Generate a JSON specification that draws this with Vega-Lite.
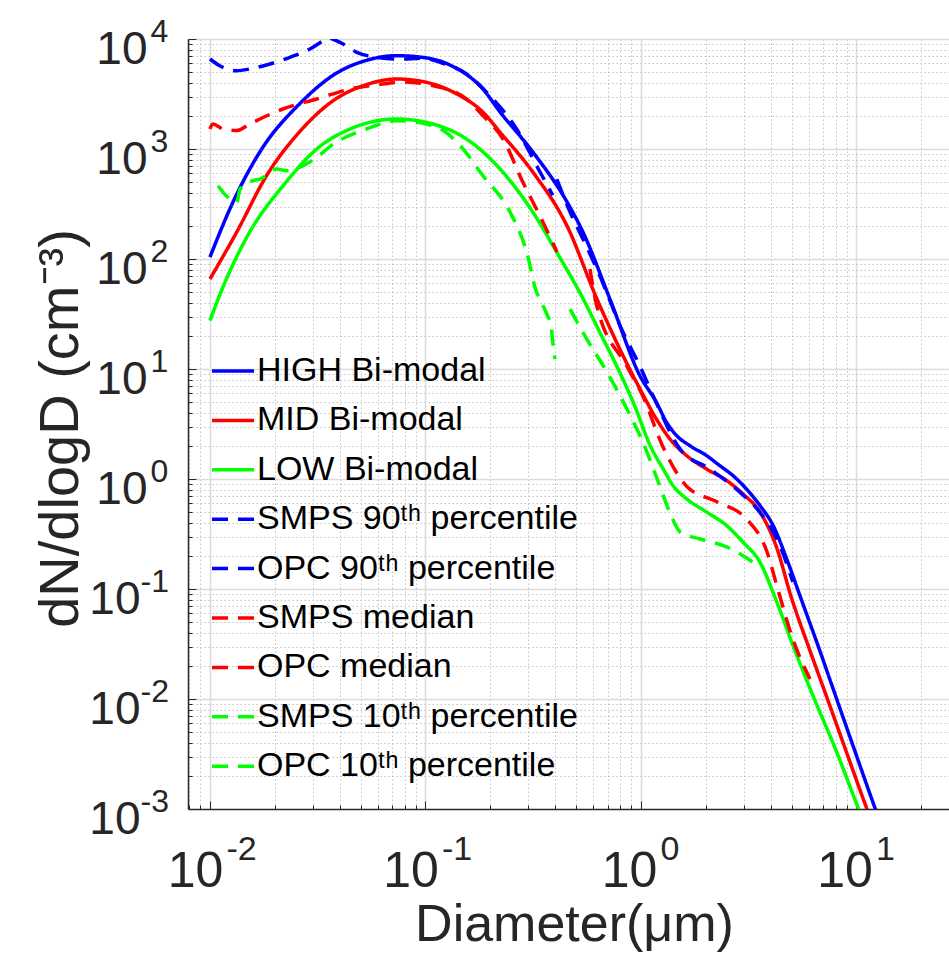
{
  "$schema": "https://vega.github.io/schema/vega-lite/v6.json",
  "width": 761,
  "height": 770,
  "autosize": {"type": "none"},
  "padding": {"left": 188, "top": 39, "right": 0, "bottom": 153},
  "background": "#ffffff",
  "config": {
    "view": {"stroke": null},
    "font": "Liberation Sans",
    "axis": {"labelFont": "Liberation Sans", "titleFont": "Liberation Sans", "labelOverlap": false, "labelFlush": false, "labelBound": false, "labelColor": "#262626", "titleColor": "#262626", "titleFontWeight": "normal", "labelLimit": 0}
  },
  "data": {"values": [
    {"s": "HIGH Bi-modal", "D": 0.01, "N": 104},
    {"s": "HIGH Bi-modal", "D": 0.0128, "N": 330},
    {"s": "HIGH Bi-modal", "D": 0.0171, "N": 950},
    {"s": "HIGH Bi-modal", "D": 0.0262, "N": 2600},
    {"s": "HIGH Bi-modal", "D": 0.0387, "N": 4900},
    {"s": "HIGH Bi-modal", "D": 0.0533, "N": 6400},
    {"s": "HIGH Bi-modal", "D": 0.0735, "N": 7050},
    {"s": "HIGH Bi-modal", "D": 0.0977, "N": 6800},
    {"s": "HIGH Bi-modal", "D": 0.13, "N": 5800},
    {"s": "HIGH Bi-modal", "D": 0.185, "N": 3500},
    {"s": "HIGH Bi-modal", "D": 0.222, "N": 2170},
    {"s": "HIGH Bi-modal", "D": 0.315, "N": 940},
    {"s": "HIGH Bi-modal", "D": 0.454, "N": 330},
    {"s": "HIGH Bi-modal", "D": 0.538, "N": 176},
    {"s": "HIGH Bi-modal", "D": 0.718, "N": 43.3},
    {"s": "HIGH Bi-modal", "D": 0.989, "N": 8.7},
    {"s": "HIGH Bi-modal", "D": 1.18, "N": 4.98},
    {"s": "HIGH Bi-modal", "D": 1.316, "N": 3.27},
    {"s": "HIGH Bi-modal", "D": 1.465, "N": 2.48},
    {"s": "HIGH Bi-modal", "D": 1.687, "N": 2.01},
    {"s": "HIGH Bi-modal", "D": 2.018, "N": 1.63},
    {"s": "HIGH Bi-modal", "D": 2.326, "N": 1.32},
    {"s": "HIGH Bi-modal", "D": 2.68, "N": 1.07},
    {"s": "HIGH Bi-modal", "D": 3.09, "N": 0.81},
    {"s": "HIGH Bi-modal", "D": 3.57, "N": 0.573},
    {"s": "HIGH Bi-modal", "D": 4.11, "N": 0.377},
    {"s": "HIGH Bi-modal", "D": 4.75, "N": 0.1875},
    {"s": "HIGH Bi-modal", "D": 5.47, "N": 0.087},
    {"s": "HIGH Bi-modal", "D": 6.72, "N": 0.0285},
    {"s": "HIGH Bi-modal", "D": 8.1, "N": 0.01},
    {"s": "HIGH Bi-modal", "D": 9.77, "N": 0.0035},
    {"s": "HIGH Bi-modal", "D": 12.2, "N": 0.00102},
    {"s": "HIGH Bi-modal", "D": 13.56, "N": 0.00058},

    {"s": "MID Bi-modal", "D": 0.01, "N": 65.8},
    {"s": "MID Bi-modal", "D": 0.0133, "N": 175},
    {"s": "MID Bi-modal", "D": 0.0183, "N": 571},
    {"s": "MID Bi-modal", "D": 0.0262, "N": 1450},
    {"s": "MID Bi-modal", "D": 0.0373, "N": 2750},
    {"s": "MID Bi-modal", "D": 0.0533, "N": 3850},
    {"s": "MID Bi-modal", "D": 0.0735, "N": 4330},
    {"s": "MID Bi-modal", "D": 0.101, "N": 4040},
    {"s": "MID Bi-modal", "D": 0.14, "N": 3160},
    {"s": "MID Bi-modal", "D": 0.185, "N": 2160},
    {"s": "MID Bi-modal", "D": 0.222, "N": 1420},
    {"s": "MID Bi-modal", "D": 0.315, "N": 618},
    {"s": "MID Bi-modal", "D": 0.454, "N": 200},
    {"s": "MID Bi-modal", "D": 0.625, "N": 43.3},
    {"s": "MID Bi-modal", "D": 0.771, "N": 17.5},
    {"s": "MID Bi-modal", "D": 0.99, "N": 6.58},
    {"s": "MID Bi-modal", "D": 1.18, "N": 3.51},
    {"s": "MID Bi-modal", "D": 1.364, "N": 2.31},
    {"s": "MID Bi-modal", "D": 1.63, "N": 1.63},
    {"s": "MID Bi-modal", "D": 2.02, "N": 1.23},
    {"s": "MID Bi-modal", "D": 2.5, "N": 0.97},
    {"s": "MID Bi-modal", "D": 2.98, "N": 0.73},
    {"s": "MID Bi-modal", "D": 3.57, "N": 0.5},
    {"s": "MID Bi-modal", "D": 4.26, "N": 0.24},
    {"s": "MID Bi-modal", "D": 4.99, "N": 0.0838},
    {"s": "MID Bi-modal", "D": 6.05, "N": 0.0285},
    {"s": "MID Bi-modal", "D": 7.34, "N": 0.01},
    {"s": "MID Bi-modal", "D": 8.89, "N": 0.0035},
    {"s": "MID Bi-modal", "D": 11.15, "N": 0.00102},
    {"s": "MID Bi-modal", "D": 12.45, "N": 0.00057},

    {"s": "LOW Bi-modal", "D": 0.01, "N": 27.5},
    {"s": "LOW Bi-modal", "D": 0.0109, "N": 43},
    {"s": "LOW Bi-modal", "D": 0.0153, "N": 176},
    {"s": "LOW Bi-modal", "D": 0.0218, "N": 461},
    {"s": "LOW Bi-modal", "D": 0.0313, "N": 1000},
    {"s": "LOW Bi-modal", "D": 0.0447, "N": 1520},
    {"s": "LOW Bi-modal", "D": 0.0735, "N": 1875},
    {"s": "LOW Bi-modal", "D": 0.108, "N": 1690},
    {"s": "LOW Bi-modal", "D": 0.155, "N": 1233},
    {"s": "LOW Bi-modal", "D": 0.222, "N": 658},
    {"s": "LOW Bi-modal", "D": 0.315, "N": 267},
    {"s": "LOW Bi-modal", "D": 0.406, "N": 116},
    {"s": "LOW Bi-modal", "D": 0.54, "N": 43.3},
    {"s": "LOW Bi-modal", "D": 0.645, "N": 21.5},
    {"s": "LOW Bi-modal", "D": 0.771, "N": 10.7},
    {"s": "LOW Bi-modal", "D": 0.921, "N": 4.98},
    {"s": "LOW Bi-modal", "D": 1.12, "N": 1.9},
    {"s": "LOW Bi-modal", "D": 1.27, "N": 1.23},
    {"s": "LOW Bi-modal", "D": 1.41, "N": 0.87},
    {"s": "LOW Bi-modal", "D": 1.63, "N": 0.66},
    {"s": "LOW Bi-modal", "D": 2.02, "N": 0.5},
    {"s": "LOW Bi-modal", "D": 2.5, "N": 0.377},
    {"s": "LOW Bi-modal", "D": 2.98, "N": 0.266},
    {"s": "LOW Bi-modal", "D": 3.57, "N": 0.175},
    {"s": "LOW Bi-modal", "D": 4.19, "N": 0.084},
    {"s": "LOW Bi-modal", "D": 5.15, "N": 0.0285},
    {"s": "LOW Bi-modal", "D": 6.38, "N": 0.01},
    {"s": "LOW Bi-modal", "D": 8.0, "N": 0.0035},
    {"s": "LOW Bi-modal", "D": 10.2, "N": 0.00102},
    {"s": "LOW Bi-modal", "D": 11.34, "N": 0.000605},

    {"s": "SMPS 90\u1d57\u02b0 percentile", "D": 0.01, "N": 6580},
    {"s": "SMPS 90\u1d57\u02b0 percentile", "D": 0.0111, "N": 5720},
    {"s": "SMPS 90\u1d57\u02b0 percentile", "D": 0.0133, "N": 5150},
    {"s": "SMPS 90\u1d57\u02b0 percentile", "D": 0.0153, "N": 5340},
    {"s": "SMPS 90\u1d57\u02b0 percentile", "D": 0.019, "N": 5930},
    {"s": "SMPS 90\u1d57\u02b0 percentile", "D": 0.0235, "N": 6820},
    {"s": "SMPS 90\u1d57\u02b0 percentile", "D": 0.0291, "N": 8110},
    {"s": "SMPS 90\u1d57\u02b0 percentile", "D": 0.0336, "N": 9660},
    {"s": "SMPS 90\u1d57\u02b0 percentile", "D": 0.0354, "N": 10200},
    {"s": "SMPS 90\u1d57\u02b0 percentile", "D": 0.0401, "N": 9330},
    {"s": "SMPS 90\u1d57\u02b0 percentile", "D": 0.048, "N": 7570},
    {"s": "SMPS 90\u1d57\u02b0 percentile", "D": 0.0594, "N": 6820},
    {"s": "SMPS 90\u1d57\u02b0 percentile", "D": 0.0762, "N": 6580},
    {"s": "SMPS 90\u1d57\u02b0 percentile", "D": 0.0977, "N": 6680},
    {"s": "SMPS 90\u1d57\u02b0 percentile", "D": 0.117, "N": 6140},
    {"s": "SMPS 90\u1d57\u02b0 percentile", "D": 0.155, "N": 4810},
    {"s": "SMPS 90\u1d57\u02b0 percentile", "D": 0.199, "N": 3050},
    {"s": "SMPS 90\u1d57\u02b0 percentile", "D": 0.265, "N": 1520},
    {"s": "SMPS 90\u1d57\u02b0 percentile", "D": 0.34, "N": 620},
    {"s": "SMPS 90\u1d57\u02b0 percentile", "D": 0.39, "N": 380},

    {"s": "OPC 90\u1d57\u02b0 percentile", "D": 0.407, "N": 533},
    {"s": "OPC 90\u1d57\u02b0 percentile", "D": 0.469, "N": 267},
    {"s": "OPC 90\u1d57\u02b0 percentile", "D": 0.538, "N": 152},
    {"s": "OPC 90\u1d57\u02b0 percentile", "D": 0.625, "N": 81},
    {"s": "OPC 90\u1d57\u02b0 percentile", "D": 0.825, "N": 21.7},
    {"s": "OPC 90\u1d57\u02b0 percentile", "D": 0.99, "N": 10.6},
    {"s": "OPC 90\u1d57\u02b0 percentile", "D": 1.14, "N": 5.7},
    {"s": "OPC 90\u1d57\u02b0 percentile", "D": 1.52, "N": 1.87},
    {"s": "OPC 90\u1d57\u02b0 percentile", "D": 2.09, "N": 1.23},
    {"s": "OPC 90\u1d57\u02b0 percentile", "D": 2.88, "N": 0.76},
    {"s": "OPC 90\u1d57\u02b0 percentile", "D": 3.68, "N": 0.46},
    {"s": "OPC 90\u1d57\u02b0 percentile", "D": 4.28, "N": 0.285},
    {"s": "OPC 90\u1d57\u02b0 percentile", "D": 5.07, "N": 0.116},

    {"s": "SMPS median", "D": 0.01, "N": 1520},
    {"s": "SMPS median", "D": 0.0103, "N": 1690},
    {"s": "SMPS median", "D": 0.0115, "N": 1520},
    {"s": "SMPS median", "D": 0.0133, "N": 1470},
    {"s": "SMPS median", "D": 0.0153, "N": 1690},
    {"s": "SMPS median", "D": 0.0218, "N": 2310},
    {"s": "SMPS median", "D": 0.0313, "N": 2850},
    {"s": "SMPS median", "D": 0.0447, "N": 3510},
    {"s": "SMPS median", "D": 0.0635, "N": 3900},
    {"s": "SMPS median", "D": 0.0787, "N": 4060},
    {"s": "SMPS median", "D": 0.108, "N": 3770},
    {"s": "SMPS median", "D": 0.155, "N": 2850},
    {"s": "SMPS median", "D": 0.185, "N": 2010},
    {"s": "SMPS median", "D": 0.229, "N": 1233},
    {"s": "SMPS median", "D": 0.283, "N": 501},
    {"s": "SMPS median", "D": 0.34, "N": 246},
    {"s": "SMPS median", "D": 0.408, "N": 116},

    {"s": "OPC median", "D": 0.58, "N": 81},
    {"s": "OPC median", "D": 0.625, "N": 37},
    {"s": "OPC median", "D": 0.861, "N": 10.6},
    {"s": "OPC median", "D": 1.02, "N": 5.7},
    {"s": "OPC median", "D": 1.26, "N": 2.0},
    {"s": "OPC median", "D": 1.63, "N": 0.86},
    {"s": "OPC median", "D": 2.25, "N": 0.62},
    {"s": "OPC median", "D": 3.1, "N": 0.43},
    {"s": "OPC median", "D": 3.85, "N": 0.217},
    {"s": "OPC median", "D": 4.28, "N": 0.106},
    {"s": "OPC median", "D": 5.07, "N": 0.035},
    {"s": "OPC median", "D": 6.09, "N": 0.0152},

    {"s": "SMPS 10\u1d57\u02b0 percentile", "D": 0.0109, "N": 463},
    {"s": "SMPS 10\u1d57\u02b0 percentile", "D": 0.0119, "N": 376},
    {"s": "SMPS 10\u1d57\u02b0 percentile", "D": 0.0133, "N": 327},
    {"s": "SMPS 10\u1d57\u02b0 percentile", "D": 0.0138, "N": 433},
    {"s": "SMPS 10\u1d57\u02b0 percentile", "D": 0.0158, "N": 515},
    {"s": "SMPS 10\u1d57\u02b0 percentile", "D": 0.0171, "N": 533},
    {"s": "SMPS 10\u1d57\u02b0 percentile", "D": 0.0204, "N": 658},
    {"s": "SMPS 10\u1d57\u02b0 percentile", "D": 0.0227, "N": 635},
    {"s": "SMPS 10\u1d57\u02b0 percentile", "D": 0.0291, "N": 762},
    {"s": "SMPS 10\u1d57\u02b0 percentile", "D": 0.0387, "N": 1160},
    {"s": "SMPS 10\u1d57\u02b0 percentile", "D": 0.0533, "N": 1520},
    {"s": "SMPS 10\u1d57\u02b0 percentile", "D": 0.0735, "N": 1810},
    {"s": "SMPS 10\u1d57\u02b0 percentile", "D": 0.101, "N": 1690},
    {"s": "SMPS 10\u1d57\u02b0 percentile", "D": 0.121, "N": 1470},
    {"s": "SMPS 10\u1d57\u02b0 percentile", "D": 0.145, "N": 1070},
    {"s": "SMPS 10\u1d57\u02b0 percentile", "D": 0.185, "N": 571},
    {"s": "SMPS 10\u1d57\u02b0 percentile", "D": 0.247, "N": 267},
    {"s": "SMPS 10\u1d57\u02b0 percentile", "D": 0.295, "N": 116},
    {"s": "SMPS 10\u1d57\u02b0 percentile", "D": 0.328, "N": 50},
    {"s": "SMPS 10\u1d57\u02b0 percentile", "D": 0.34, "N": 43},
    {"s": "SMPS 10\u1d57\u02b0 percentile", "D": 0.37, "N": 30},
    {"s": "SMPS 10\u1d57\u02b0 percentile", "D": 0.382, "N": 25.6},
    {"s": "SMPS 10\u1d57\u02b0 percentile", "D": 0.39, "N": 17.6},
    {"s": "SMPS 10\u1d57\u02b0 percentile", "D": 0.399, "N": 12.3},

    {"s": "OPC 10\u1d57\u02b0 percentile", "D": 0.469, "N": 35},
    {"s": "OPC 10\u1d57\u02b0 percentile", "D": 0.561, "N": 18.7},
    {"s": "OPC 10\u1d57\u02b0 percentile", "D": 0.695, "N": 9.4},
    {"s": "OPC 10\u1d57\u02b0 percentile", "D": 0.861, "N": 4.33},
    {"s": "OPC 10\u1d57\u02b0 percentile", "D": 1.02, "N": 2.17},
    {"s": "OPC 10\u1d57\u02b0 percentile", "D": 1.19, "N": 1.0},
    {"s": "OPC 10\u1d57\u02b0 percentile", "D": 1.36, "N": 0.5},
    {"s": "OPC 10\u1d57\u02b0 percentile", "D": 1.52, "N": 0.33},
    {"s": "OPC 10\u1d57\u02b0 percentile", "D": 1.88, "N": 0.285},
    {"s": "OPC 10\u1d57\u02b0 percentile", "D": 2.51, "N": 0.241},
    {"s": "OPC 10\u1d57\u02b0 percentile", "D": 3.31, "N": 0.176}
  ]},
  "layer": [
    {
      "mark": {"type": "point", "opacity": 0},
      "encoding": {
        "x": {"field": "D", "type": "quantitative",
          "scale": {"type": "log", "domain": [0.00791, 26.9], "nice": false},
          "axis": {"orient": "bottom", "title": null, "labels": false, "domain": false,
            "values": [0.008, 0.009, 0.01, 0.02, 0.03, 0.04, 0.05, 0.06, 0.07, 0.08, 0.09, 0.1, 0.2, 0.3, 0.4, 0.5, 0.6, 0.7, 0.8, 0.9, 1, 2, 3, 4, 5, 6, 7, 8, 9, 10, 20],
            "grid": true,
            "gridColor": {"condition": {"test": "abs(log(datum.value)/LN10 - round(log(datum.value)/LN10)) < 0.001", "value": "#dcdcdc"}, "value": "#c2c2c2"},
            "gridDash": {"condition": {"test": "abs(log(datum.value)/LN10 - round(log(datum.value)/LN10)) < 0.001", "value": [1, 0]}, "value": [1.5, 2.5]},
            "gridWidth": {"condition": {"test": "abs(log(datum.value)/LN10 - round(log(datum.value)/LN10)) < 0.001", "value": 1.5}, "value": 1},
            "ticks": true, "tickColor": "#262626", "tickWidth": 1,
            "tickSize": {"condition": {"test": "abs(log(datum.value)/LN10 - round(log(datum.value)/LN10)) < 0.001", "value": -8}, "value": -4}}},
        "y": {"field": "N", "type": "quantitative",
          "scale": {"type": "log", "domain": [0.001, 10000], "nice": false},
          "axis": {"orient": "left", "title": null, "labels": false, "domain": false,
            "values": [0.002, 0.003, 0.004, 0.005, 0.006, 0.007, 0.008, 0.009, 0.01, 0.02, 0.03, 0.04, 0.05, 0.06, 0.07, 0.08, 0.09, 0.1, 0.2, 0.3, 0.4, 0.5, 0.6, 0.7, 0.8, 0.9, 1, 2, 3, 4, 5, 6, 7, 8, 9, 10, 20, 30, 40, 50, 60, 70, 80, 90, 100, 200, 300, 400, 500, 600, 700, 800, 900, 1000, 2000, 3000, 4000, 5000, 6000, 7000, 8000, 9000, 10000],
            "grid": true,
            "gridColor": {"condition": {"test": "abs(log(datum.value)/LN10 - round(log(datum.value)/LN10)) < 0.001", "value": "#dcdcdc"}, "value": "#c2c2c2"},
            "gridDash": {"condition": {"test": "abs(log(datum.value)/LN10 - round(log(datum.value)/LN10)) < 0.001", "value": [1, 0]}, "value": [1.5, 2.5]},
            "gridWidth": {"condition": {"test": "abs(log(datum.value)/LN10 - round(log(datum.value)/LN10)) < 0.001", "value": 1.5}, "value": 1},
            "ticks": true, "tickColor": "#262626", "tickWidth": 1,
            "tickSize": {"condition": {"test": "abs(log(datum.value)/LN10 - round(log(datum.value)/LN10)) < 0.001", "value": -8}, "value": -4}}}
      }
    },
    {
      "mark": {"type": "line", "strokeWidth": 3.5, "clip": true, "interpolate": "monotone"},
      "encoding": {
        "x": {"field": "D", "type": "quantitative",
          "scale": {"type": "log", "domain": [0.00791, 26.9], "nice": false},
          "axis": {"orient": "bottom", "values": [0.01, 0.1, 1, 10], "labelExpr": "'10'",
            "ticks": false, "grid": false, "domain": true, "domainColor": "#262626", "domainWidth": 1.5,
            "labelFontSize": 50, "labelAlign": "right", "labelBaseline": "top", "labelPadding": 37,
            "labelOffset": {"condition": {"test": "datum.value < 1", "value": 13}, "value": 16},
            "title": "Diameter(\u03bcm)", "titleFontSize": 52, "titleX": 386, "titleY": 131, "titleAlign": "center", "titleBaseline": "alphabetic"}},
        "y": {"field": "N", "type": "quantitative",
          "scale": {"type": "log", "domain": [0.001, 10000], "nice": false},
          "axis": {"orient": "left", "values": [0.001, 0.01, 0.1, 1, 10, 100, 1000, 10000], "labelExpr": "'10'",
            "ticks": false, "grid": false, "domain": true, "domainColor": "#262626", "domainWidth": 1.5,
            "labelFontSize": 46, "labelAlign": "right", "labelBaseline": "middle",
            "labelPadding": {"condition": {"test": "datum.value < 1", "value": 48}, "value": 41},
            "labelOffset": 10,
            "title": "dN/dlogD (cm\u207b\u00b3)", "titleFontSize": 56, "titleAngle": -90, "titleX": -128, "titleY": 389, "titleAlign": "center", "titleBaseline": "middle"}},
        "color": {"field": "s", "type": "nominal",
          "scale": {"domain": ["HIGH Bi-modal", "MID Bi-modal", "LOW Bi-modal", "SMPS 90\u1d57\u02b0 percentile", "OPC 90\u1d57\u02b0 percentile", "SMPS median", "OPC median", "SMPS 10\u1d57\u02b0 percentile", "OPC 10\u1d57\u02b0 percentile"],
            "range": ["#0000ff", "#ff0000", "#00ff00", "#0000ff", "#0000ff", "#ff0000", "#ff0000", "#00ff00", "#00ff00"]},
          "legend": {"orient": "none", "legendX": 22, "legendY": 309, "direction": "vertical", "title": null,
            "labelFont": "Liberation Sans", "labelFontSize": 34, "labelColor": "#000000", "labelLimit": 0,
            "symbolType": "stroke", "symbolSize": 1764, "symbolStrokeWidth": 3.5, "rowPadding": 9.4, "labelOffset": 1, "padding": 0}},
        "strokeDash": {"field": "s", "type": "nominal",
          "scale": {"domain": ["HIGH Bi-modal", "MID Bi-modal", "LOW Bi-modal", "SMPS 90\u1d57\u02b0 percentile", "OPC 90\u1d57\u02b0 percentile", "SMPS median", "OPC median", "SMPS 10\u1d57\u02b0 percentile", "OPC 10\u1d57\u02b0 percentile"],
            "range": [[1, 0], [1, 0], [1, 0], [16, 10], [16, 10], [16, 10], [16, 10], [16, 10], [16, 10]]},
          "legend": {"orient": "none", "legendX": 22, "legendY": 309, "direction": "vertical", "title": null,
            "labelFont": "Liberation Sans", "labelFontSize": 34, "labelColor": "#000000", "labelLimit": 0,
            "symbolType": "stroke", "symbolSize": 1764, "symbolStrokeWidth": 3.5, "rowPadding": 9.4, "labelOffset": 1, "padding": 0}}
      }
    },
    {
      "mark": {"type": "point", "opacity": 0},
      "encoding": {
        "x": {"field": "D", "type": "quantitative",
          "scale": {"type": "log", "domain": [0.00791, 26.9], "nice": false},
          "axis": {"orient": "bottom", "values": [0.01, 0.1, 1, 10], "labelExpr": "'' + round(log(datum.value)/LN10)",
            "ticks": false, "grid": false, "domain": false, "title": null,
            "labelFontSize": 34, "labelAlign": "left", "labelBaseline": "top", "labelPadding": 23,
            "labelOffset": {"condition": {"test": "datum.value < 1", "value": 16}, "value": 19}}},
        "y": {"field": "N", "type": "quantitative",
          "scale": {"type": "log", "domain": [0.001, 10000], "nice": false},
          "axis": {"orient": "left", "values": [0.001, 0.01, 0.1, 1, 10, 100, 1000, 10000], "labelExpr": "'' + round(log(datum.value)/LN10)",
            "ticks": false, "grid": false, "domain": false, "title": null,
            "labelFontSize": 32, "labelAlign": "left", "labelBaseline": "middle",
            "labelPadding": {"condition": {"test": "datum.value < 1", "value": 48}, "value": 38},
            "labelOffset": -8}}
      }
    }
  ],
  "resolve": {"axis": {"x": "independent", "y": "independent"}}
}
